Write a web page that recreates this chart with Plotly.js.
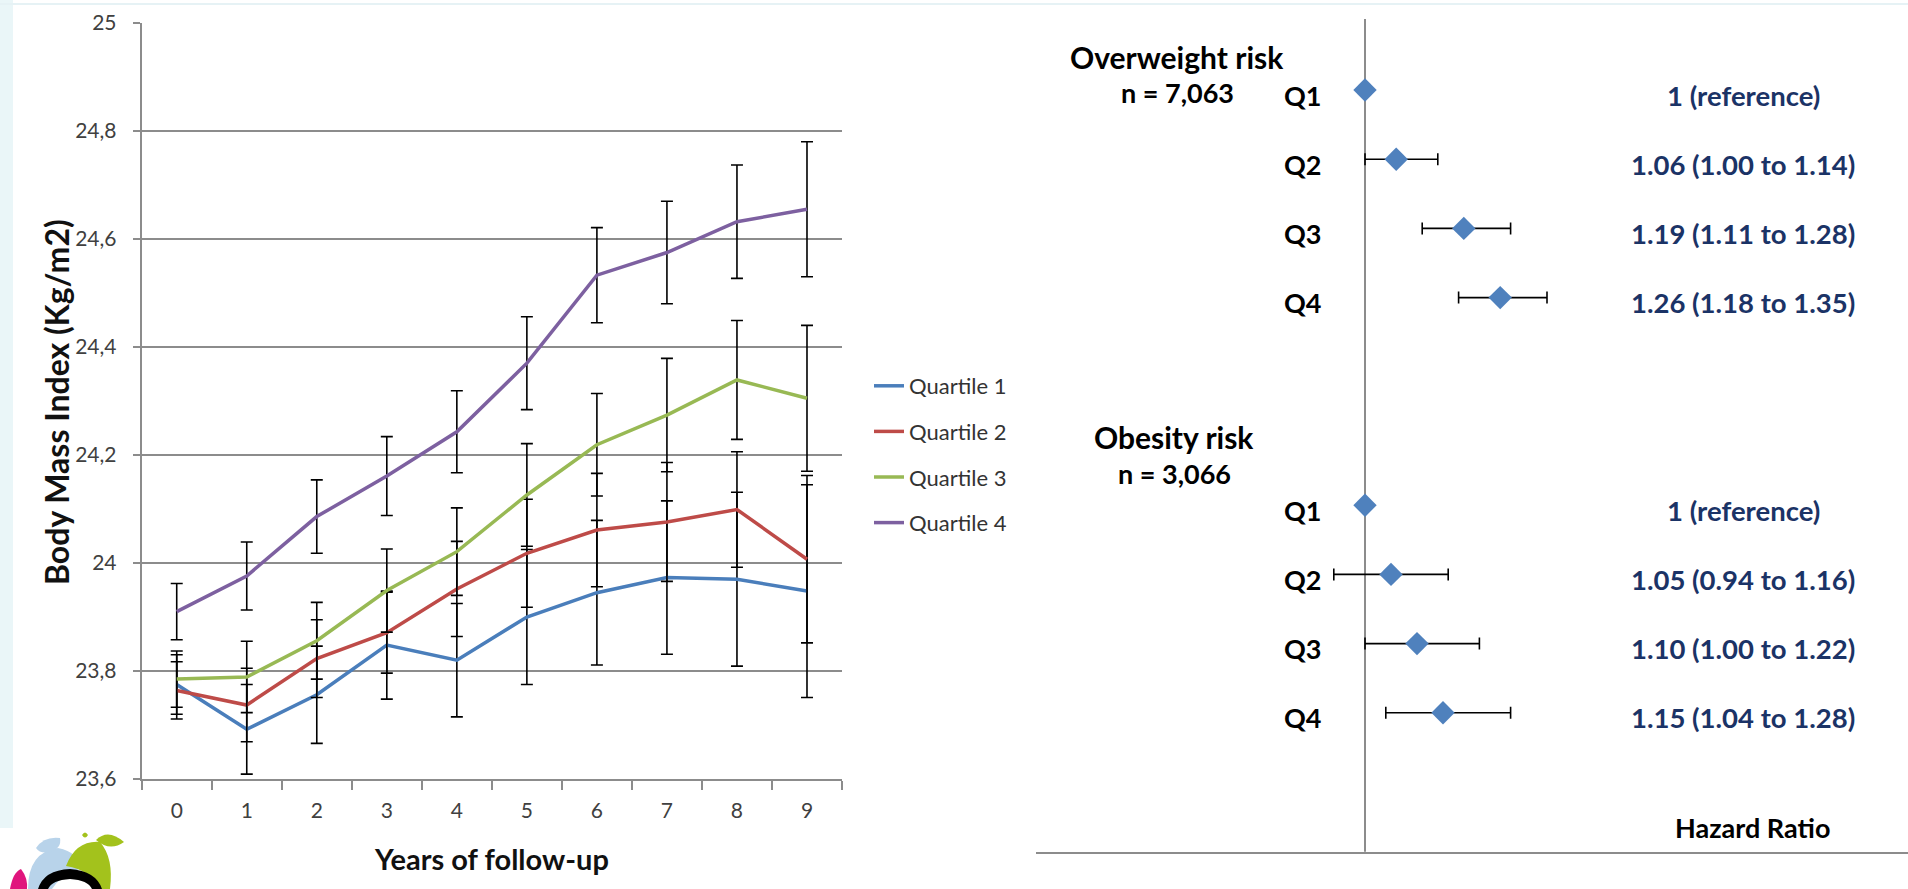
<!DOCTYPE html>
<html>
<head>
<meta charset="utf-8">
<script src="https://cdn.plot.ly/plotly-3.0.1.min.js"></script>
<style>html,body{margin:0;padding:0;background:#fff;}#chart{width:1908px;height:889px;}</style>
</head>
<body>
<div id="chart"></div>
<script>
// ---------- Left panel: BMI trajectories by quartile ----------
const years = [0, 1, 2, 3, 4, 5, 6, 7, 8, 9];
const seriesNames = ["Quartile 1", "Quartile 2", "Quartile 3", "Quartile 4"];
const q1 = [23.775, 23.692, 23.756, 23.848, 23.820, 23.900, 23.945, 23.973, 23.970, 23.948];
const q1Err = [0.055, 0.083, 0.090, 0.100, 0.105, 0.125, 0.134, 0.142, 0.161, 0.197];
const q2 = [23.764, 23.737, 23.823, 23.871, 23.952, 24.018, 24.061, 24.076, 24.099, 24.007];
const q2Err = [0.053, 0.068, 0.072, 0.075, 0.088, 0.100, 0.105, 0.110, 0.107, 0.155];
const q3 = [23.785, 23.789, 23.856, 23.949, 24.021, 24.126, 24.219, 24.274, 24.339, 24.305];
const q3Err = [0.052, 0.066, 0.071, 0.077, 0.081, 0.095, 0.095, 0.105, 0.110, 0.135];
const q4 = [23.910, 23.976, 24.086, 24.161, 24.243, 24.370, 24.533, 24.575, 24.632, 24.655];
const q4Err = [0.052, 0.063, 0.068, 0.073, 0.076, 0.086, 0.088, 0.095, 0.105, 0.125];
const yTickVals = [23.6, 23.8, 24, 24.2, 24.4, 24.6, 24.8, 25];
const xTitle = "Years of follow-up";
const yTitle = "Body Mass Index (Kg/m2)";

// ---------- Right panel: hazard ratios ----------
const quartileLabels = ["Q1", "Q2", "Q3", "Q4"];
const groupTitles = ["Overweight risk", "Obesity risk"];
const groupN = ["n = 7,063", "n = 3,066"];
const owHR = [1, 1.06, 1.19, 1.26];
const owLo = [null, 1.00, 1.11, 1.18];
const owHi = [null, 1.14, 1.28, 1.35];
const owText = ["1 (reference)", "1.06 (1.00 to 1.14)", "1.19 (1.11 to 1.28)", "1.26 (1.18 to 1.35)"];
const obHR = [1, 1.05, 1.10, 1.15];
const obLo = [null, 0.94, 1.00, 1.04];
const obHi = [null, 1.16, 1.22, 1.28];
const obText = ["1 (reference)", "1.05 (0.94 to 1.16)", "1.10 (1.00 to 1.22)", "1.15 (1.04 to 1.28)"];
const hrAxisTitle = "Hazard Ratio";

// ---------- build ----------
const W = 1908, H = 889;
const PX = x => x / W;
const PY = y => 1 - y / H;
const FONT = "Lato, 'Open Sans', sans-serif";
const colors = ["#4A7EBB", "#BE4B48", "#98B954", "#7D60A0"];
const vals = [q1, q2, q3, q4];
const errs = [q1Err, q2Err, q3Err, q4Err];

const traces = vals.map((v, k) => ({
  type: "scatter", mode: "lines", x: years, y: v, name: seriesNames[k],
  xaxis: "x", yaxis: "y",
  line: {color: colors[k], width: 3.5},
  error_y: {type: "data", array: errs[k], visible: true, color: "#000", thickness: 1.6, width: 6},
  legendgroup: "g" + k, hoverinfo: "x+y"
}));

const groups = [
  {hr: owHR, lo: owLo, hi: owHi, text: owText},
  {hr: obHR, lo: obLo, hi: obHi, text: obText}
];
const rowOf = (g, i) => g * 6 + i;
groups.forEach((grp, g) => {
  const rows = grp.hr.map((_, i) => rowOf(g, i));
  traces.push({
    type: "scatter", mode: "markers", x: grp.hr, y: rows, xaxis: "x2", yaxis: "y2",
    showlegend: false,
    marker: {symbol: "diamond", size: 18, color: "#4F81BD"},
    error_x: {
      type: "data", symmetric: false, visible: true, color: "#000", thickness: 1.6, width: 6,
      array: grp.hr.map((h, i) => grp.hi[i] == null ? NaN : grp.hi[i] - h),
      arrayminus: grp.hr.map((h, i) => grp.lo[i] == null ? NaN : h - grp.lo[i])
    }
  });
});

const annotations = [];
groups.forEach((grp, g) => {
  grp.hr.forEach((h, i) => {
    annotations.push({xref: "paper", yref: "y2", x: PX(1323), y: rowOf(g, i), yshift: -5,
      xanchor: "right", yanchor: "middle", showarrow: false, text: quartileLabels[i],
      font: {family: FONT, size: 27, color: "#000", weight: "bold"}});
    annotations.push({xref: "paper", yref: "y2", x: PX(1743), y: rowOf(g, i), yshift: -5,
      xanchor: "center", yanchor: "middle", showarrow: false, text: grp.text[i],
      font: {family: FONT, size: 27.5, color: "#1B3366", weight: "bold"}});
  });
});
const titlePos = [[1177, 57, 93], [1174, 437, 473]];
groupTitles.forEach((t, g) => {
  annotations.push({xref: "paper", yref: "paper", x: PX(titlePos[g][0]), y: PY(titlePos[g][1]),
    xanchor: "center", yanchor: "middle", showarrow: false, text: t,
    font: {family: FONT, size: 30, color: "#000", weight: "bold"}});
  annotations.push({xref: "paper", yref: "paper", x: PX(titlePos[g][0]), y: PY(titlePos[g][2]),
    xanchor: "center", yanchor: "middle", showarrow: false, text: groupN[g],
    font: {family: FONT, size: 27, color: "#000", weight: "bold"}});
});
annotations.push({xref: "paper", yref: "paper", x: PX(1752), y: PY(827), xanchor: "center", yanchor: "middle",
  showarrow: false, text: hrAxisTitle, font: {family: FONT, size: 27, color: "#000", weight: "bold"}});
annotations.push({xref: "paper", yref: "paper", x: PX(56), y: PY(402), xanchor: "center", yanchor: "middle",
  textangle: -90, showarrow: false, text: yTitle, font: {family: FONT, size: 32, color: "#111", weight: "bold"}});
annotations.push({xref: "paper", yref: "paper", x: PX(491), y: PY(858), xanchor: "center", yanchor: "middle",
  showarrow: false, text: xTitle, font: {family: FONT, size: 29, color: "#111", weight: "bold"}});

const shapes = [
  {type: "rect", xref: "paper", yref: "paper", x0: 0, x1: PX(13), y0: PY(828), y1: 1, fillcolor: "#EAF6F8", line: {width: 0}, layer: "below"},
  {type: "line", xref: "paper", yref: "paper", x0: 0, x1: 1, y0: PY(4), y1: PY(4), line: {color: "#E6F2F5", width: 2}, layer: "below"},
  {type: "line", xref: "x2", yref: "y2 domain", x0: 1, x1: 1, y0: 0, y1: 1, line: {color: "#8C8C8C", width: 2}, layer: "below"}
];
function pathPx(cmds) {
  return cmds.replace(/(-?\d+(?:\.\d+)?) (-?\d+(?:\.\d+)?)/g, (m, a, b) => PX(+a).toFixed(5) + " " + PY(+b).toFixed(5));
}
const logo = [
  ["M 28 889 Q 28 852 58 848 Q 80 852 78 870 Q 60 876 52 889 Z", "#B8D3EA"],
  ["M 36 848 Q 44 836 60 838 Q 62 848 50 852 Q 40 854 36 848 Z", "#B8D3EA"],
  ["M 66 866 Q 76 840 100 842 Q 114 858 110 889 L 96 889 Q 92 870 66 866 Z", "#A3C21C"],
  ["M 96 840 Q 108 828 124 842 Q 110 852 96 840 Z", "#A3C21C"],
  ["M 82 835 Q 85 830 88 835 Q 85 840 82 835 Z", "#A3C21C"],
  ["M 10 889 Q 13 872 21 869 Q 28 878 27 889 Z", "#E0157D"],
  ["M 38 889 Q 44 870 70 869 Q 96 871 102 889 L 92 889 Q 88 880 70 879 Q 52 880 48 889 Z", "#000"]
];
logo.forEach(([p, c]) => shapes.push({type: "path", xref: "paper", yref: "paper", path: pathPx(p), fillcolor: c, line: {width: 0}}));

const layout = {
  width: W, height: H, autosize: false,
  margin: {l: 0, r: 0, t: 0, b: 0, pad: 0},
  paper_bgcolor: "#fff", plot_bgcolor: "rgba(0,0,0,0)",
  separators: ",.",
  font: {family: FONT, color: "#404040"},
  showlegend: true,
  legend: {x: PX(869), y: PY(365), xanchor: "left", yanchor: "top", bgcolor: "rgba(0,0,0,0)",
    font: {family: FONT, size: 22, color: "#333"}, tracegroupgap: 14, traceorder: "grouped"},
  xaxis: {
    domain: [PX(141.7), PX(842)], anchor: "y", type: "category",
    tickson: "boundaries", ticks: "outside", ticklen: 9, tickwidth: 2, tickcolor: "#8C8C8C",
    showline: true, linecolor: "#8C8C8C", linewidth: 2, showgrid: false, zeroline: false,
    tickfont: {family: FONT, size: 21, color: "#404040"}, ticklabelstandoff: 12
  },
  yaxis: {
    domain: [PY(779), PY(23)], anchor: "x", range: [23.6, 25], tickvals: yTickVals,
    ticks: "outside", ticklen: 7, tickwidth: 2, tickcolor: "#8C8C8C",
    showline: true, linecolor: "#8C8C8C", linewidth: 2,
    showgrid: true, gridcolor: "#8C8C8C", gridwidth: 1.6, zeroline: false,
    tickfont: {family: FONT, size: 21, color: "#404040"}, ticklabelstandoff: 12
  },
  xaxis2: {
    domain: [PX(1036), 1], anchor: "y2", range: [1 - 329 / 520, 1 + 543 / 520],
    showline: true, linecolor: "#8C8C8C", linewidth: 2.5, showgrid: false, zeroline: false,
    ticks: "", showticklabels: false
  },
  yaxis2: {
    domain: [PY(851.7), PY(19)], anchor: "x2", range: [(851.7 - 90) / 69.2, -(90 - 19) / 69.2],
    showline: false, showgrid: false, zeroline: false, ticks: "", showticklabels: false
  },
  annotations: annotations,
  shapes: shapes
};

Plotly.newPlot("chart", traces, layout, {displayModeBar: false, staticPlot: true});
</script>
</body>
</html>
